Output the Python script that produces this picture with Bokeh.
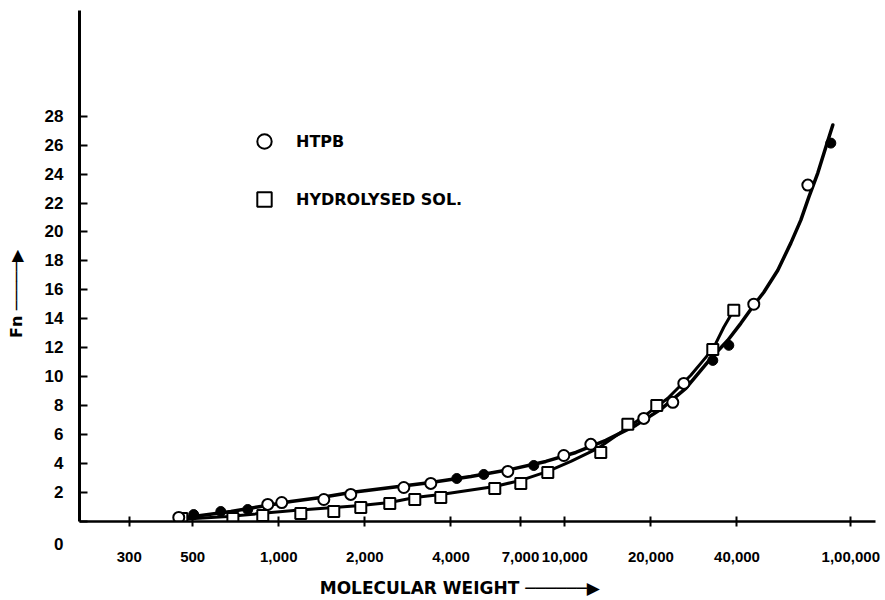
from bokeh.plotting import figure
from bokeh.models import Range1d, FixedTicker, Legend, LegendItem
from bokeh.embed import file_html
from bokeh.resources import INLINE

# ---------------- data ----------------
mw_ticks = [300, 500, 1000, 2000, 4000, 7000, 10000, 20000, 40000, 100000]
mw_tick_labels = ["300", "500", "1,000", "2,000", "4,000", "7,000",
                  "10,000", "20,000", "40,000", "1,00,000"]
fn_ticks = [0, 2, 4, 6, 8, 10, 12, 14, 16, 18, 20, 22, 24, 26, 28]
fn_tick_labels = ["\n\n0", "2", "4", "6", "8", "10", "12", "14", "16", "18",
                  "20", "22", "24", "26", "28"]

# HTPB open circles
htpb_mw = [447, 915, 1024, 1437, 1785, 2736, 3400, 6321, 9920, 12330,
           18890, 23860, 26070, 45790, 70760]
htpb_fn = [0.28, 1.18, 1.31, 1.52, 1.87, 2.35, 2.63, 3.46, 4.56, 5.33,
           7.12, 8.23, 9.54, 15.01, 23.24]

# HTPB solid points on the curve
htpb_solid_mw = [504, 627, 779, 4192, 5210, 7791, 32920, 37450, 85140]
htpb_solid_fn = [0.48, 0.69, 0.83, 2.97, 3.25, 3.87, 11.13, 12.17, 26.14]

# Hydrolysed solution squares
hyd_mw = [458, 691, 879, 1194, 1557, 1935, 2444, 2989, 3685, 5691, 7018,
          8721, 13360, 16610, 20970, 32920, 38980]
hyd_fn = [0.21, 0.21, 0.41, 0.55, 0.69, 0.97, 1.24, 1.52, 1.66, 2.28, 2.63,
          3.39, 4.77, 6.71, 8.02, 11.89, 14.59]

# Fitted curves
htpb_curve_mw = [436, 534, 680, 865, 1102, 1403, 1785, 2464, 3400, 4693, 6475,
                 8584, 10930, 13910, 17710, 21660, 26490, 32400, 37160, 41250,
                 45790, 49640, 55560, 61690, 66870, 71320, 76650, 81770, 86520]
htpb_curve_fn = [0.21, 0.41, 0.69, 1.04, 1.38, 1.66, 2.01, 2.35, 2.70, 3.11, 3.60,
                 4.15, 4.77, 5.60, 6.64, 7.75, 9.20, 11.27, 12.52, 13.69,
                 14.94, 15.84, 17.36, 19.23, 20.82, 22.41, 24.07, 25.86, 27.39]

hyd_curve_mw = [444, 663, 1128, 1557, 1935, 2444, 2989, 3685, 5691, 7018, 8721,
                10500, 13040, 16610, 19510, 22920, 27580, 31120, 33190, 35960, 39300]
hyd_curve_fn = [0.14, 0.35, 0.76, 0.97, 1.11, 1.31, 1.66, 1.87, 2.42, 2.84, 3.46,
                4.15, 5.05, 6.50, 7.47, 8.51, 10.10, 11.34, 12.03, 13.42, 14.73]

X_MIN, X_MAX = 201, 122000
Y_MIN, Y_MAX = 0, 35.3

TICK_FONT = "Liberation Sans"
TEXT_FONT = "DejaVu Sans"
NBSP = "\u00a0"

p = figure(width=885, height=600, x_axis_type="log",
           x_range=Range1d(X_MIN, X_MAX), y_range=Range1d(Y_MIN, Y_MAX),
           output_backend="svg", toolbar_location=None,
           min_border_left=79, min_border_right=10,
           min_border_top=10, min_border_bottom=79)
p.grid.visible = False
p.outline_line_color = None
p.background_fill_color = "white"
p.border_fill_color = "white"

# x axis
xa = p.xaxis[0]
xa.ticker = FixedTicker(ticks=mw_ticks, minor_ticks=[])
xa.major_label_overrides = {t: l for t, l in zip(mw_ticks, mw_tick_labels)}
xa.axis_line_width = 2.5
xa.axis_line_color = "black"
xa.major_tick_in = 5
xa.major_tick_out = 5
xa.major_tick_line_width = 2
xa.minor_tick_line_color = None
xa.major_label_standoff = 25
xa.major_label_text_font = TICK_FONT
xa.major_label_text_font_style = "bold"
xa.major_label_text_font_size = "15px"
xa.major_label_text_color = "black"
xa.axis_label = "MOLECULAR WEIGHT " + "\u2500" * 6 + "\u25B6" + NBSP * 6
xa.axis_label_text_font = TEXT_FONT
xa.axis_label_text_font_style = "bold"
xa.axis_label_text_font_size = "17px"
xa.axis_label_text_color = "black"
xa.axis_label_standoff = 13

# y axis
ya = p.yaxis[0]
ya.ticker = FixedTicker(ticks=fn_ticks, minor_ticks=[])
ya.major_label_overrides = {t: l for t, l in zip(fn_ticks, fn_tick_labels)}
ya.axis_line_width = 3
ya.axis_line_color = "black"
ya.major_tick_in = 8
ya.major_tick_out = 0
ya.major_tick_line_width = 2
ya.minor_tick_line_color = None
ya.major_label_standoff = 16
ya.major_label_text_font = TICK_FONT
ya.major_label_text_font_style = "bold"
ya.major_label_text_font_size = "17px"
ya.major_label_text_color = "black"
ya.axis_label = "Fn " + "\u2500" * 5 + "\u25B6" + NBSP * 10
ya.axis_label_text_font = TEXT_FONT
ya.axis_label_text_font_style = "bold"
ya.axis_label_text_font_size = "16px"
ya.axis_label_text_color = "black"
ya.axis_label_standoff = 16

# curves
p.line(hyd_curve_mw, hyd_curve_fn, line_color="black", line_width=3,
       line_join="round", line_cap="round")
p.line(htpb_curve_mw, htpb_curve_fn, line_color="black", line_width=3.5,
       line_join="round", line_cap="round")

# markers
r_solid = p.scatter(htpb_solid_mw, htpb_solid_fn, marker="circle", size=10,
                    fill_color="black", line_color="black")
r_sq = p.scatter(hyd_mw, hyd_fn, marker="square", size=11,
                 fill_color="white", line_color="black", line_width=2)
r_circ = p.scatter(htpb_mw, htpb_fn, marker="circle", size=11,
                   fill_color="white", line_color="black", line_width=2)

legend = Legend(items=[LegendItem(label="HTPB", renderers=[r_circ]),
                       LegendItem(label="HYDROLYSED SOL.", renderers=[r_sq])],
                location=(167, 304), orientation="vertical",
                glyph_width=36, glyph_height=36, label_height=36,
                spacing=22, padding=0, margin=0, label_standoff=14,
                border_line_color=None, background_fill_alpha=0,
                label_text_font=TEXT_FONT, label_text_font_style="bold",
                label_text_font_size="16px", label_text_color="black")
p.add_layout(legend)

open("out.html", "w").write(file_html(p, INLINE))
